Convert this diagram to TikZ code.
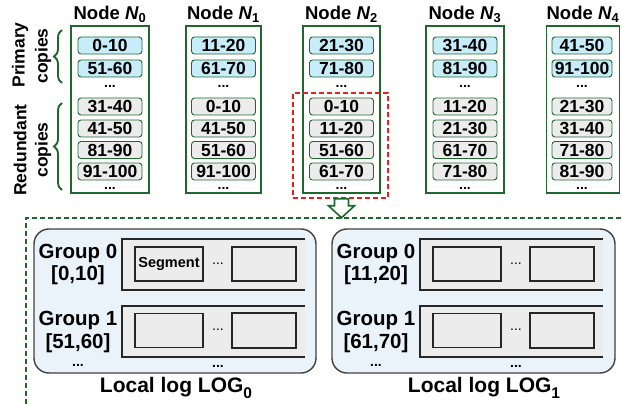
\documentclass[tikz,border=0pt]{standalone}
\usepackage{fontspec}
\setmainfont{Liberation Sans}
\usetikzlibrary{decorations.pathreplacing,calc}
\definecolor{dgreen}{RGB}{30,104,46}
\definecolor{pblue}{RGB}{200,237,250}
\definecolor{rgray}{RGB}{236,236,236}
\definecolor{logfill}{RGB}{234,243,250}
\definecolor{logdraw}{RGB}{64,64,64}
\definecolor{rred}{RGB}{230,30,30}
\tikzset{
  colbox/.style={draw=dgreen, line width=1.8pt, minimum height=167pt, inner sep=0pt},
  seg/.style={draw=dgreen, line width=0.9pt, rounded corners=3pt, minimum width=64pt, minimum height=17pt, inner sep=0pt, font=\bfseries\fontsize{17.5}{17.5}\selectfont},
  pri/.style={seg, fill=pblue},
  red/.style={seg, fill=rgray},
  dotsn/.style={font=\bfseries\fontsize{14}{14}\selectfont, inner sep=0pt},
  title/.style={font=\bfseries\fontsize{18.5}{18.5}\selectfont, inner sep=0pt},
  sidelab/.style={rotate=90, font=\bfseries\fontsize{17.5}{17.5}\selectfont, inner sep=0pt},
  bracegreen/.style={draw=dgreen, line width=1.9pt, decorate, decoration={brace, amplitude=8pt}},
  logbox/.style={draw=logdraw, fill=logfill, line width=1.4pt, rounded corners=15pt, minimum height=144pt, inner sep=0pt},
  rowline/.style={draw=black!85, line width=1.1pt, fill=rgray},
  inbox/.style={draw=black!85, line width=1.1pt, fill=rgray, minimum height=34pt, inner sep=0pt},
  grp/.style={font=\bfseries\fontsize{20.5}{20.5}\selectfont, inner sep=0pt},
  loglab/.style={font=\bfseries\fontsize{21}{21}\selectfont, inner sep=0pt},
}
\begin{document}
\begin{tikzpicture}[x=1pt,y=-1pt]
\useasboundingbox (0,0) rectangle (622,404);

% side labels and braces
\node[sidelab] (lp1) at (20,55) {Primary};
\node[sidelab] (lp2) at (43,56) {copies};
\node[sidelab] (lr1) at (20,150) {Redundant};
\node[sidelab] (lr2) at (43,150) {copies};
\coordinate (bpa) at (62,83);
\coordinate (bpb) at (62,30);
\coordinate (bra) at (62,190);
\coordinate (brb) at (62,103);
\draw[bracegreen] (bpa) -- (bpb);
\draw[bracegreen] (bra) -- (brb);

% columns
\node[colbox, minimum width=78pt] (c0) at (110,109.5) {};
\node[colbox, minimum width=75pt] (c1) at (223.5,109.5) {};
\node[colbox, minimum width=77pt] (c2) at (341.5,109.5) {};
\node[colbox, minimum width=78pt] (c3) at (465,109.5) {};
\node[colbox, minimum width=73pt] (c4) at (583,109.5) {};

\node[title] (t0) at (110,14) {Node \textit{N}\textsubscript{0}};
\node[title] (t1) at (223.5,14) {Node \textit{N}\textsubscript{1}};
\node[title] (t2) at (341.5,14) {Node \textit{N}\textsubscript{2}};
\node[title] (t3) at (465,14) {Node \textit{N}\textsubscript{3}};
\node[title] (t4) at (583,14) {Node \textit{N}\textsubscript{4}};

% N0
\node[pri] (a0) at (110,45.5) {0-10};
\node[pri] (b0) at (110,68.5) {51-60};
\node[dotsn] (d0) at (110,86) {...};
\node[red] (e0) at (110,106.5) {31-40};
\node[red] (f0) at (110,128.5) {41-50};
\node[red] (g0) at (110,150) {81-90};
\node[red] (h0) at (110,171.5) {91-100};
\node[dotsn] (k0) at (110,188.5) {...};
% N1
\node[pri] (a1) at (223.5,45.5) {11-20};
\node[pri] (b1) at (223.5,68.5) {61-70};
\node[dotsn] (d1) at (223.5,86) {...};
\node[red] (e1) at (223.5,106.5) {0-10};
\node[red] (f1) at (223.5,128.5) {41-50};
\node[red] (g1) at (223.5,150) {51-60};
\node[red] (h1) at (223.5,171.5) {91-100};
\node[dotsn] (k1) at (223.5,188.5) {...};
% N2
\node[pri] (a2) at (341.5,45.5) {21-30};
\node[pri] (b2) at (341.5,68.5) {71-80};
\node[dotsn] (d2) at (341.5,86) {...};
\node[red] (e2) at (341.5,106.5) {0-10};
\node[red] (f2) at (341.5,128.5) {11-20};
\node[red] (g2) at (341.5,150) {51-60};
\node[red] (h2) at (341.5,171.5) {61-70};
\node[dotsn] (k2) at (341.5,188.5) {...};
% N3
\node[pri] (a3) at (465,45.5) {31-40};
\node[pri] (b3) at (465,68.5) {81-90};
\node[dotsn] (d3) at (465,86) {...};
\node[red] (e3) at (465,106.5) {11-20};
\node[red] (f3) at (465,128.5) {21-30};
\node[red] (g3) at (465,150) {61-70};
\node[red] (h3) at (465,171.5) {71-80};
\node[dotsn] (k3) at (465,188.5) {...};
% N4
\node[pri, minimum width=60pt] (a4) at (582,45.5) {41-50};
\node[pri, minimum width=60pt] (b4) at (582,68.5) {91-100};
\node[dotsn] (d4) at (582,86) {...};
\node[red, minimum width=60pt] (e4) at (582,106.5) {21-30};
\node[red, minimum width=60pt] (f4) at (582,128.5) {31-40};
\node[red, minimum width=60pt] (g4) at (582,150) {71-80};
\node[red, minimum width=60pt] (h4) at (582,171.5) {81-90};
\node[dotsn] (k4) at (582,188.5) {...};

% selection
\node[draw=rred, dashed, line width=1.5pt, dash pattern=on 5pt off 3pt, minimum width=95pt, minimum height=105pt, inner sep=0pt] (sel) at (340.5,145.5) {};

% green dashed region
\coordinate (gd1) at (26,404);
\coordinate (gd2) at (26,218);
\coordinate (gd3) at (622,218);
\draw[dgreen, line width=1.4pt, dash pattern=on 5pt off 3pt] (gd1) -- (gd2) -- (gd3);

% hollow arrow
\coordinate (as) at ($(sel.south)+(1,0)$);
\draw[dgreen, line width=1.6pt, fill=white, line join=miter]
  ($(as)+(-7,0)$) -- ($(as)+(-7,7)$) -- ($(as)+(-13,7)$) -- ($(as)+(0,19)$)
  -- ($(as)+(13,7)$) -- ($(as)+(7,7)$) -- ($(as)+(7,0)$) -- cycle;

% local logs
\node[logbox, minimum width=282pt] (log0) at (175,301) {};
\node[logbox, minimum width=283pt] (log1) at (473.5,301) {};

\foreach \o/\n/\ga/\gb in {0/0/{[0,10]}/{[51,60]}, 298/1/{[11,20]}/{[61,70]}} {
  \fill[rgray] (122+\o,239) rectangle (305+\o,290);
  \fill[rgray] (122+\o,306) rectangle (305+\o,357);
  \draw[rowline, fill=none] (305+\o,239) -- (122+\o,239) -- (122+\o,290) -- (305+\o,290);
  \draw[rowline, fill=none] (305+\o,306) -- (122+\o,306) -- (122+\o,357) -- (305+\o,357);
  \node[grp] (ga\n) at (78+\o,253) {Group 0};
  \node[grp] (gb\n) at (78+\o,275) {\ga};
  \node[grp] (gc\n) at (78+\o,320) {Group 1};
  \node[grp] (gd\n) at (78+\o,343) {\gb};
  \node[dotsn] (ge\n) at (78+\o,365) {...};
  \node[dotsn] (gf\n) at (218+\o,366) {...};
  \node[dotsn, font=\fontsize{14}{14}\selectfont] (s1\n) at (218+\o,264) {...};
  \node[dotsn, font=\fontsize{14}{14}\selectfont] (s2\n) at (218+\o,330) {...};
  \node[inbox, minimum width=64pt] (s3\n) at (264+\o,264) {};
  \node[inbox, minimum width=68pt] (s4\n) at (169+\o,330.5) {};
  \node[inbox, minimum width=64pt, minimum height=35pt] (s5\n) at (264+\o,330.5) {};
}
\node[inbox, minimum width=68pt, font=\bfseries\fontsize{14.5}{14.5}\selectfont] (seg0) at (169,264) {Segment};
\node[inbox, minimum width=68pt] (seg1) at (467,264) {};

\node[loglab] (ll0) at (176,388) {Local log LOG\raisebox{-0.3em}{\fontsize{15.5}{15.5}\selectfont 0}};
\node[loglab] (ll1) at (484,388) {Local log LOG\raisebox{-0.3em}{\fontsize{15.5}{15.5}\selectfont 1}};
\end{tikzpicture}
\end{document}
